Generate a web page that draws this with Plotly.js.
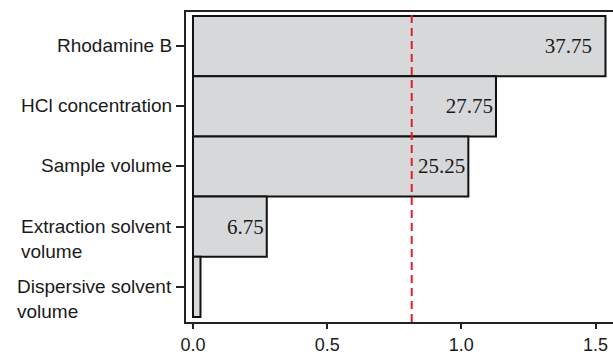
<!DOCTYPE html>
<html>
<head>
<meta charset="utf-8">
<script src="https://cdn.plot.ly/plotly-3.0.1.min.js"></script>
<style>html,body{margin:0;padding:0;background:#fff;}#chart{width:613px;height:354px;}</style>
</head>
<body>
<div id="chart"></div>
<script>
const categories = ['Rhodamine B', 'HCl concentration', 'Sample volume', 'Extraction solvent<br>volume', 'Dispersive solvent<br>volume'];
const effects = [1.537, 1.129, 1.026, 0.275, 0.028];
const barLabels = ['37.75\u00a0\u00a0', '27.75', '25.25', '6.75', ''];
const refLine = 0.815;
const xTicks = [0, 0.5, 1.0, 1.5];
const xTickText = ['0.0', '0.5', '1.0', '1.5'];

const trace = {
  type: 'bar',
  orientation: 'h',
  x: effects,
  y: categories.map((c, i) => i),
  text: barLabels,
  textposition: 'inside',
  insidetextanchor: 'end',
  textangle: 0,
  constraintext: 'none',
  textfont: {family: 'Liberation Serif', size: 21, color: '#1a1a1a'},
  marker: {color: '#d7d8da', line: {color: '#111', width: 2}},
  hoverinfo: 'none'
};

const annotations = categories.map((c, i) => ({
  xref: 'paper', yref: 'y', x: 0, y: i,
  text: c, showarrow: false, xanchor: 'right', yanchor: 'top', align: 'left',
  xshift: -12, yshift: 13,
  font: {family: 'Liberation Sans', size: 19, color: '#1a1a1a'}
}));

const layout = {
  width: 613, height: 354,
  margin: {l: 186, r: 0, t: 12, b: 32},
  paper_bgcolor: '#fff', plot_bgcolor: '#fff',
  showlegend: false,
  bargap: 0,
  xaxis: {
    range: [-0.026, 1.565],
    tickvals: xTicks, ticktext: xTickText,
    ticks: 'outside', ticklen: 5, tickwidth: 2, tickcolor: '#222',
    showline: true, linecolor: '#222', linewidth: 2, mirror: true,
    showgrid: false, zeroline: false,
    tickfont: {family: 'Liberation Sans', size: 18, color: '#1a1a1a'}
  },
  yaxis: {
    range: [4.583, -0.566],
    tickvals: [0, 1, 2, 3, 4],
    showticklabels: false,
    ticks: 'outside', ticklen: 8, tickwidth: 2, tickcolor: '#222',
    showline: true, linecolor: '#222', linewidth: 2,
    showgrid: false, zeroline: false
  },
  shapes: [{
    type: 'line', xref: 'x', yref: 'paper', x0: refLine, x1: refLine, y0: 0, y1: 1,
    line: {color: '#e0202a', width: 2, dash: '8px,5px'}
  }],
  annotations: annotations
};

Plotly.newPlot('chart', [trace], layout, {staticPlot: true, displayModeBar: false});
</script>
</body>
</html>
